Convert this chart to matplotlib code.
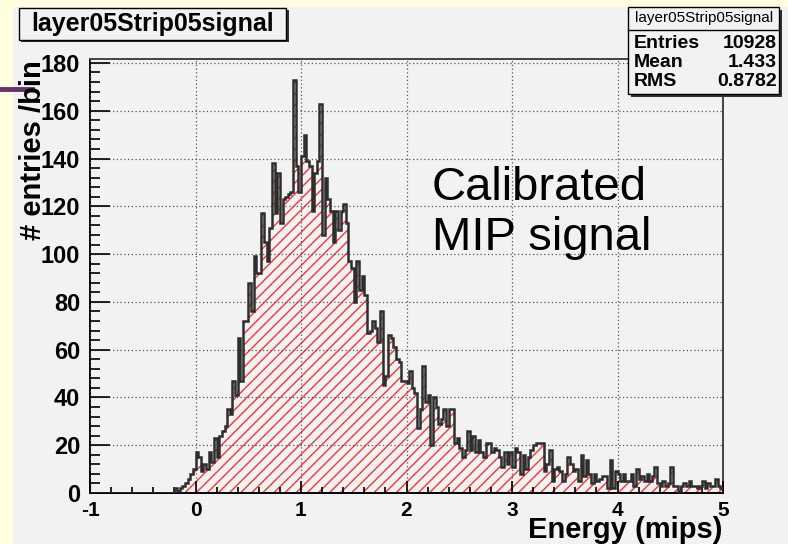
import numpy as np
import matplotlib.pyplot as plt
from matplotlib.patches import Rectangle
from matplotlib.lines import Line2D
from matplotlib.ticker import MultipleLocator

plt.rcParams['font.family'] = ['Liberation Sans', 'DejaVu Sans']
plt.rcParams['hatch.linewidth'] = 1.0
plt.rcParams['axes.unicode_minus'] = False

# histogram: 240 bins from -1 to 5, counts start at bin 32 (x = -0.2)
x_min, x_max, n_bins = -1.0, 5.0, 240
first_bin = 32
counts = [
    2, 1, 2, 3, 4, 6, 8, 10, 17, 15, 9, 12, 10, 17, 13, 23,
    15, 24, 26, 28, 35, 33, 47, 41, 65, 47, 72, 72, 88, 76, 99, 92,
    92, 117, 105, 97, 111, 138, 117, 134, 113, 123, 124, 125, 126, 173, 137, 126,
    141, 150, 139, 137, 118, 134, 139, 163, 108, 132, 123, 118, 105, 118, 110, 118,
    121, 113, 97, 94, 80, 97, 85, 91, 83, 67, 68, 72, 69, 63, 76, 45,
    49, 66, 65, 61, 56, 55, 47, 47, 46, 51, 44, 42, 27, 35, 53, 38,
    41, 20, 40, 36, 29, 31, 35, 28, 35, 35, 21, 23, 19, 15, 18, 26,
    18, 24, 17, 22, 17, 15, 21, 21, 17, 19, 18, 15, 11, 17, 12, 17,
    11, 19, 17, 8, 16, 10, 15, 18, 20, 21, 21, 21, 9, 12, 18, 5,
    10, 11, 9, 5, 8, 15, 12, 9, 10, 5, 16, 7, 14, 8, 4, 8,
    5, 6, 7, 7, 2, 14, 2, 9, 8, 5, 8, 5, 5, 8, 3, 10,
    6, 7, 5, 8, 5, 7, 11, 4, 3, 5, 3, 4, 11, 3, 3, 1,
    3, 4, 3, 5, 3, 3, 2, 3, 5, 2, 4, 3, 3, 6, 3, 2,
]
hist_name = "layer05Strip05signal"
stat_names = ["Entries", "Mean", "RMS"]
stat_values = ["10928", "1.433", "0.8782"]

edges = np.linspace(x_min, x_max, n_bins + 1)
values = np.zeros(n_bins)
values[first_bin:first_bin + len(counts)] = counts

W, H = 788, 544
def fx(x):
    return x / W
def fy(y):
    return 1 - y / H

fig = plt.figure(figsize=(W / 100, H / 100), dpi=100, facecolor='#ffffe0')
fig.patches.append(Rectangle((fx(13), 0), 1, fy(7), transform=fig.transFigure,
                             facecolor='#f2f2f2', edgecolor='none', zorder=-5))
fig.add_artist(Line2D([0, fx(32)], [fy(88.5), fy(88.5)], color='#663366', lw=3.5))

ax = fig.add_axes([fx(90), fy(493), fx(723 - 90), (493 - 59) / H], facecolor='#f2f2f2')
ax.stairs(values, edges, fill=True, facecolor='none', edgecolor='#ff3333',
          hatch='///', linewidth=0, zorder=1)
ax.stairs(values, edges, color='#2e2e2e', linewidth=1.8, baseline=0, zorder=3)

ax.set_xlim(x_min, x_max)
ax.set_ylim(0, max(counts) * 1.05)
ax.xaxis.set_major_locator(MultipleLocator(1))
ax.xaxis.set_minor_locator(MultipleLocator(0.2))
ax.yaxis.set_major_locator(MultipleLocator(20))
ax.yaxis.set_minor_locator(MultipleLocator(4))
ax.grid(True, which='major', color='#555555', linestyle=(0, (1, 2)), linewidth=0.9)
ax.set_axisbelow(False)

ax.tick_params(axis='x', which='major', direction='in', length=9, width=1.2, pad=6,
               labelsize=15)
ax.tick_params(axis='x', which='minor', direction='in', length=4.5, width=1.2)
ax.tick_params(axis='y', which='major', direction='in', length=14.4, width=1.2, pad=7,
               labelsize=17)
ax.tick_params(axis='y', which='minor', direction='in', length=7.2, width=1.2)
for lab in ax.get_xticklabels() + ax.get_yticklabels():
    lab.set_fontweight('bold')
for s in ['left', 'bottom']:
    ax.spines[s].set_color('black')
    ax.spines[s].set_linewidth(1.4)
for s in ['top', 'right']:
    ax.spines[s].set_color('#444444')
    ax.spines[s].set_linewidth(1.4)

fig.text(fx(722), fy(538), 'Energy (mips)', ha='right', va='baseline',
         fontsize=21, fontweight='bold')
fig.text(fx(33), fy(150), '# entries /bin', ha='center', va='center', rotation=90,
         fontsize=21, fontweight='bold')

fig.text(fx(432), fy(200), 'Calibrated', fontsize=34, va='baseline')
fig.text(fx(432), fy(250), 'MIP signal', fontsize=34, va='baseline')

# title box
fig.patches.append(Rectangle((fx(21), fy(42)), fx(268), (42 - 10) / H, transform=fig.transFigure,
                             facecolor='#333333', edgecolor='none', zorder=1))
fig.patches.append(Rectangle((fx(19), fy(40)), fx(267), (40 - 8) / H, transform=fig.transFigure,
                             facecolor='#f2f2f2', edgecolor='black', lw=1, zorder=2))
fig.text(fx(153), fy(24), hist_name, ha='center', va='center', fontsize=18,
         fontweight='bold', zorder=3)

# stats box
fig.patches.append(Rectangle((fx(631), fy(97)), fx(151), (97 - 10) / H, transform=fig.transFigure,
                             facecolor='#333333', edgecolor='none', zorder=1))
fig.patches.append(Rectangle((fx(628), fy(94)), fx(151), (94 - 7) / H, transform=fig.transFigure,
                             facecolor='#f2f2f2', edgecolor='black', lw=1, zorder=2))
fig.add_artist(Line2D([fx(628), fx(779)], [fy(30), fy(30)], color='black', lw=1, zorder=3))
fig.text(fx(704), fy(18), hist_name, ha='center', va='center', fontsize=11, zorder=3)
for i, (name, val) in enumerate(zip(stat_names, stat_values)):
    y = fy(43 + 19.5 * i)
    fig.text(fx(634), y, name, ha='left', va='center', fontsize=14, fontweight='bold', zorder=3)
    fig.text(fx(777), y, val, ha='right', va='center', fontsize=14, fontweight='bold', zorder=3)

plt.savefig('out.png', dpi=100, facecolor=fig.get_facecolor())
